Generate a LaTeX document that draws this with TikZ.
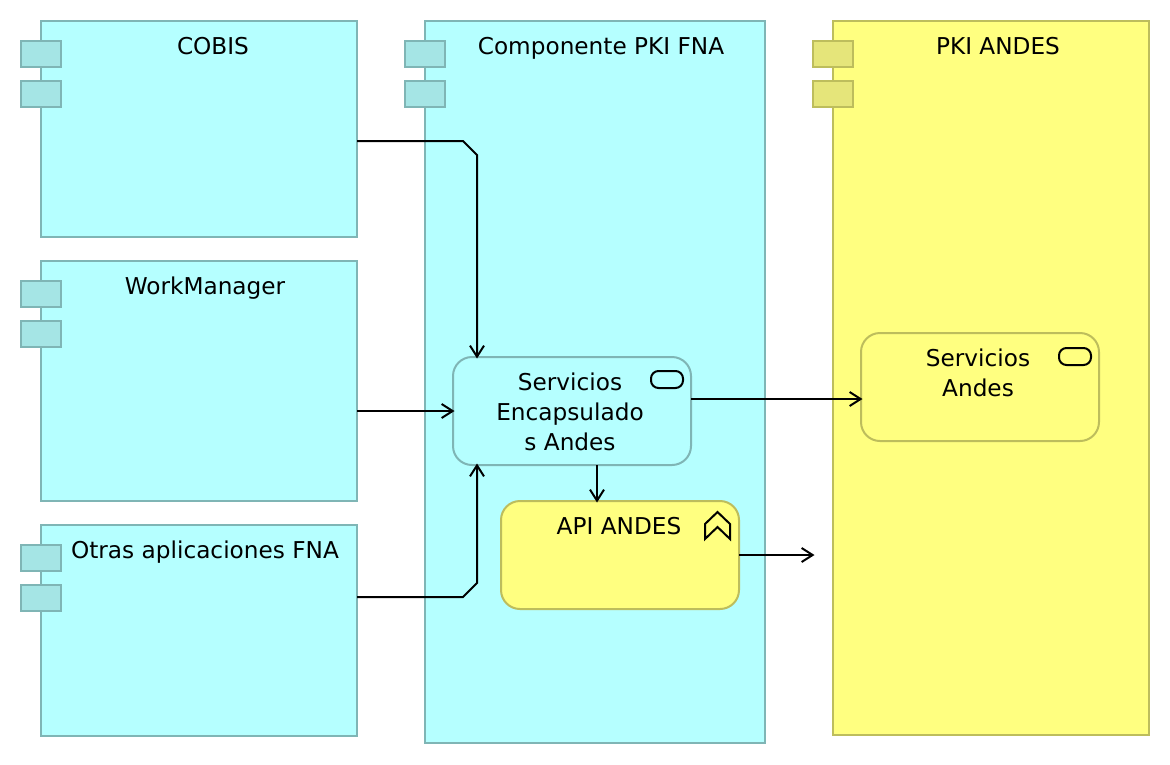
\documentclass[tikz,border=0pt]{standalone}
\usepackage{fontspec}
\setmainfont{DejaVu Sans}
\usetikzlibrary{arrows.meta}
\definecolor{cyanfill}{HTML}{B5FFFF}
\definecolor{cyanline}{HTML}{7FB5B5}
\definecolor{cyantab}{HTML}{A5E5E5}
\definecolor{yelfill}{HTML}{FFFF80}
\definecolor{yelline}{HTML}{BDBD5C}
\definecolor{yeltab}{HTML}{E5E57A}
\tikzset{
  x=1pt,y=-1pt,
  box/.style={draw,line width=2pt,inner sep=0pt,outer sep=0pt,anchor=north west},
  cyanbox/.style={box,draw=cyanline,fill=cyanfill},
  yelbox/.style={box,draw=yelline,fill=yelfill},
  cyantabbox/.style={box,draw=cyanline,fill=cyantab,minimum width=40pt,minimum height=26pt},
  yeltabbox/.style={box,draw=yelline,fill=yeltab,minimum width=40pt,minimum height=26pt},
  rounded/.style={rounded corners=19pt},
  txt/.style={font=\fontsize{23.2}{30}\selectfont,align=center,inner sep=0pt,text=black},
  line1/.style={txt,anchor=base},
  conn/.style={draw=black,line width=2pt,shorten >=-1.5pt,-{Straight Barb[length=11pt,width=14pt,line width=2pt]}},
  glyph/.style={draw=black,line width=2pt,line join=miter,miter limit=10}
}
\begin{document}
\begin{tikzpicture}
\useasboundingbox (0,0) rectangle (1170,764);
% large boxes
\node[cyanbox,minimum width=316pt,minimum height=216pt] (cobis) at (41,21) {};
\node[cyanbox,minimum width=316pt,minimum height=240pt] (wm) at (41,261) {};
\node[cyanbox,minimum width=316pt,minimum height=211pt] (otras) at (41,525) {};
\node[cyanbox,minimum width=340pt,minimum height=722pt] (pkifna) at (425,21) {};
\node[yelbox,minimum width=316pt,minimum height=714pt] (pkiandes) at (833,21) {};
% tabs
\node[cyantabbox] (cobisA) at (21,41) {};
\node[cyantabbox] (cobisB) at (21,81) {};
\node[cyantabbox] (wmA) at (21,281) {};
\node[cyantabbox] (wmB) at (21,321) {};
\node[cyantabbox] (otrasA) at (21,545) {};
\node[cyantabbox] (otrasB) at (21,585) {};
\node[cyantabbox] (pkifnaA) at (405,41) {};
\node[cyantabbox] (pkifnaB) at (405,81) {};
\node[yeltabbox] (pkiandesA) at (813,41) {};
\node[yeltabbox] (pkiandesB) at (813,81) {};
% inner boxes
\node[cyanbox,rounded,minimum width=238pt,minimum height=108pt] (enc) at (453,357) {};
\node[yelbox,rounded,minimum width=238pt,minimum height=108pt] (api) at (501,501) {};
\node[yelbox,rounded,minimum width=238pt,minimum height=108pt] (sand) at (861,333) {};
% glyphs
\draw[glyph,rounded corners=7.5pt] (651,371) rectangle (683,388);
\draw[glyph,rounded corners=7.5pt] (1059,348) rectangle (1091,365);
\draw[glyph] (705,539) -- (705,524) -- (717.5,512) -- (730,524) -- (730,539) -- (717.5,527) -- cycle;
% labels
\node[line1] (tcobis) at (213,54) {COBIS};
\node[line1] (twm) at (205,294) {WorkManager};
\node[line1] (totras) at (205,558) {Otras aplicaciones FNA};
\node[line1] (tfna) at (601,54) {Componente PKI FNA};
\node[line1] (tpki) at (998,54) {PKI ANDES};
\node[txt] (tenc) at (570,412) {Servicios\\Encapsulado\\s Andes};
\node[line1] (tapi) at (619,534) {API ANDES};
\node[txt] (tsand) at (978,373) {Servicios\\Andes};
% connectors
\coordinate (c1a) at (463,141);
\coordinate (c1b) at (477,155);
\coordinate (c2a) at (463,597);
\coordinate (c2b) at (477,583);
\coordinate (free) at (813,555);
\draw[conn] ([yshift=-12pt]cobis.east) -- (c1a) -- (c1b) -- ([xshift=-95pt]enc.north);
\draw[conn] ([yshift=-30pt]wm.east) -- (enc.west);
\draw[conn] ([yshift=33.5pt]otras.east) -- (c2a) -- (c2b) -- ([xshift=-95pt]enc.south);
\draw[conn] ([yshift=12pt]enc.east) -- ([yshift=-12pt]sand.west);
\draw[conn] ([xshift=25pt]enc.south) -- ([xshift=-23pt]api.north);
\draw[conn] (api.east) -- (free);
\end{tikzpicture}
\end{document}
